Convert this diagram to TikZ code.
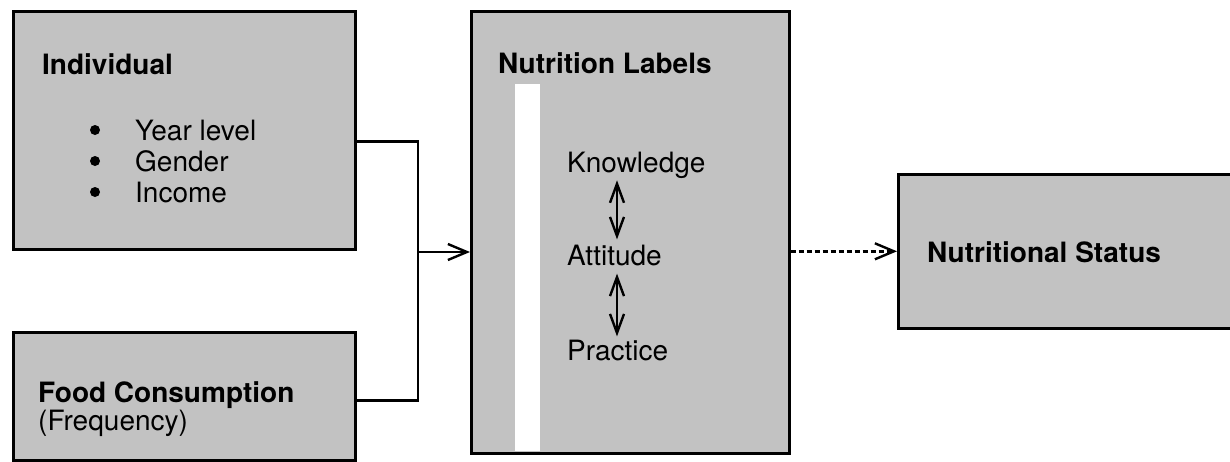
\documentclass[tikz,border=0pt]{standalone}
\usepackage{fontspec}
\setmainfont{TeX Gyre Heros}
\usetikzlibrary{arrows.meta,calc}
\tikzset{
  box/.style={draw=black, line width=2.6pt, fill=black!24, rectangle, inner sep=0pt, anchor=north west},
  txt/.style={anchor=base west, inner sep=0pt, font=\fontsize{28}{30}\selectfont},
  btxt/.style={txt, font=\fontsize{28}{30}\selectfont\bfseries},
  conn/.style={line width=2.4pt},
  barb/.style={},
  arr/.style={line width=2.4pt, -{Straight Barb[length=19pt,width=16pt,line width=2.4pt]}},
  dblarr/.style={line width=2.4pt, {Straight Barb[length=19pt,width=14pt,line width=2.4pt]}-{Straight Barb[length=19pt,width=14pt,line width=2.4pt]}},
  dasharr/.style={arr, dash pattern=on 5pt off 3pt},
  bullet/.style={circle, fill=black, inner sep=0pt, minimum size=10pt}
}
\begin{document}
\begin{tikzpicture}[x=1pt,y=-1pt]
\useasboundingbox (0,0) rectangle (1230,461);
\begin{scope}
\clip (0,0) rectangle (1230,461);
% boxes
\node[box, minimum width=342pt, minimum height=238pt] (ind) at (12,10) {};
\node[box, minimum width=342pt, minimum height=128pt] (food) at (12,331) {};
\node[box, minimum width=318pt, minimum height=442pt] (mid) at (470,10) {};
\node[box, minimum width=340pt, minimum height=154pt] (stat) at (897,173) {};
\fill[white] (515,84) rectangle (540,450.5);
\end{scope}
% texts
\node[btxt] (indt) at (42,74) {Individual};
\node[bullet] (b1) at (95,130) {};
\node[bullet] (b2) at (95,161) {};
\node[bullet] (b3) at (95,192) {};
\node[txt] (yl) at (135,140) {Year level};
\node[txt] (gd) at (135,171) {Gender};
\node[txt] (inc) at (135,202) {Income};
\node[btxt] (fct) at (38,402) {Food Consumption};
\node[txt] (frq) at (38,430) {(Frequency)};
\node[btxt] (nlt) at (498,73) {Nutrition Labels};
\node[txt] (know) at (567,172) {Knowledge};
\node[txt] (att) at (567,265) {Attitude};
\node[txt] (prac) at (567,360) {Practice};
\node[btxt] (nst) at (927,262) {Nutritional Status};
% connectors
\coordinate (j) at (418,252);
\draw[conn] ([yshift=-11pt]ind.east) -| (j);
\draw[conn] ([yshift=-4pt]food.east) -| (j);
\draw[arr] (j) -- (j -| mid.west);
\draw[dasharr] (mid.east |- stat.west) -- (stat.west);
\draw[dblarr, shorten <=2pt, shorten >=5pt] (know.south -| 617,0) -- (att.north -| 617,0);
\draw[dblarr, shorten <=8pt, shorten >=3pt] (att.south -| 617,0) -- (prac.north -| 617,0);
\end{tikzpicture}
\end{document}
